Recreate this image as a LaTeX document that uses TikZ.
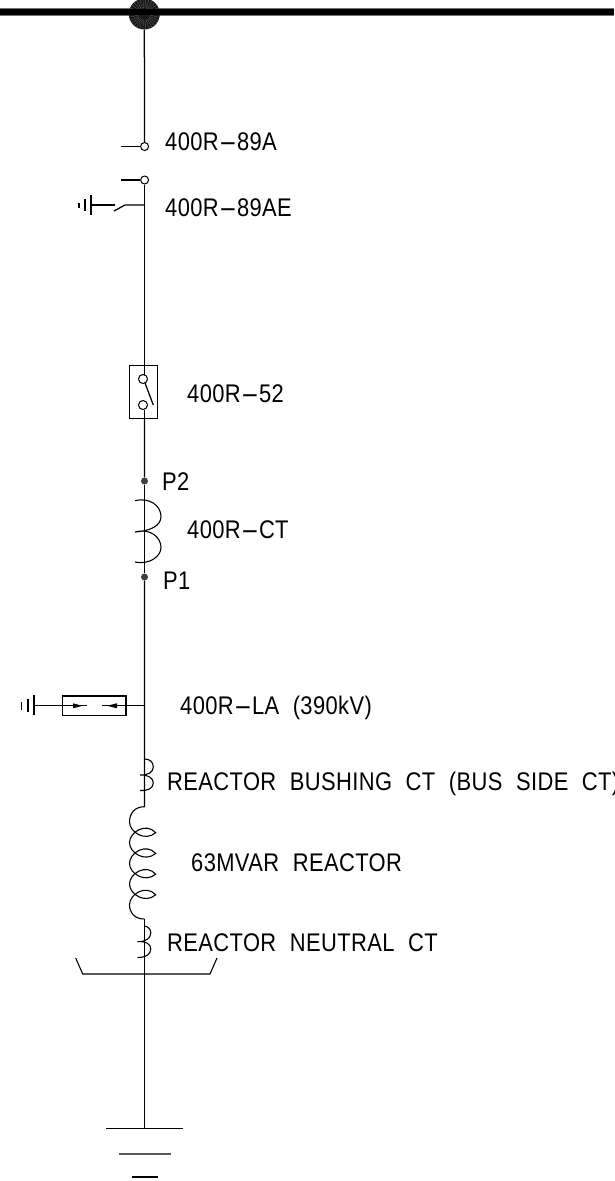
\documentclass[tikz,border=0pt]{standalone}
\usepackage{fontspec}
\usepackage{graphicx}
\setmainfont[FakeStretch=0.86,WordSpace=2.1,LetterSpace=1.5]{Liberation Sans}
\newcommand{\dd}{\scalebox{2.5}[1]{-}}
\tikzset{
  wire/.style={draw=black,line width=1.25pt},
  thin wire/.style={draw=black,line width=1.1pt},
  lab/.style={anchor=base west,inner sep=0pt,font=\fontsize{25.5}{25.5}\selectfont},
  swc/.style={circle,draw=black,fill=white,line width=1pt,minimum size=8pt,inner sep=0pt},
  dotc/.style={circle,fill=black!75,minimum size=7pt,inner sep=0pt},
  pt/.style={inner sep=0pt,minimum size=0pt}
}
\begin{document}
\begin{tikzpicture}[x=1pt,y=-1pt]
\useasboundingbox (0,0) rectangle (614,1181);
\fill[white] (0,0) rectangle (614,1181);
% bus
\fill[black!55] (0,8.3) rectangle (614,15.5);
\fill[black] (0,9) rectangle (614,14.8);
\node[circle,fill=black!90,minimum size=31pt,inner sep=0pt] (busjoint) at (144.3,14) {};
\foreach \a in {0,12,...,348}{
  \draw[white,opacity=.3,line width=.35pt] (144.3,14)++(\a:6) -- ++(\a:9.3);
}
\fill[black] (128,9) rectangle (160,14.8);
% switch
\node[swc] (sa) at (144.6,146.5) {};
\node[swc] (sb) at (144.6,180) {};
\coordinate (sal) at (120.7,146.5);
\coordinate (sbl) at (120.7,180);
\draw[wire] (busjoint.south) -- (sa.north);
\draw[wire] (sal) -- (sa.west);
\draw[wire] (sbl) -- (sb.west);
% earth switch
\coordinate (ej) at (144.5,205);
\coordinate (eb) at (125,205);
\coordinate (ec) at (114,211);
\coordinate (ed) at (115,205);
\coordinate (ee) at (91,205);
\draw[wire] (ej) -- (eb) -- (ec);
\draw[wire] (ed) -- (ee);
\draw[line width=1.5pt] (91,195) -- (91,215);
\draw[line width=1.5pt] (84.8,199) -- (84.8,211);
\draw[line width=1.5pt] (78.8,202.5) -- (78.8,208);
% breaker
\node[draw=black,line width=1.3pt,fill=white,minimum width=27.5pt,minimum height=53.5pt,inner sep=0pt] (cb) at (143.4,392) {};
\node[swc,minimum size=9pt] (ca) at (143,379) {};
\node[swc,minimum size=9pt] (cc) at (143,405) {};
\coordinate (bl1) at (145,383);
\coordinate (bl2) at (153.3,405);
\draw[wire] (bl1) -- (bl2);
\draw[wire] (sb.south -| 144.4,0) -- (144.4,365);
\draw[wire] (144.4,365) -- (144.4,375);
\draw[wire] (144.4,409.5) -- (144.4,419);
% CT
\node[dotc] (p2) at (144.5,481) {};
\node[dotc] (p1) at (144.5,577) {};
\draw[wire] (144.4,419) -- (p2);
\draw[wire] (p2) -- (p1);
\draw[thin wire] (135,500.7) .. controls (150,497) and (161,506) .. (161,516.5)
   .. controls (161,526) and (150,531) .. (135,532)
   .. controls (150,528) and (161,537) .. (161,547.5)
   .. controls (161,556) and (150,565) .. (135,562);
% LA
\node[draw=black,line width=1.2pt,minimum width=63.3pt,minimum height=19.7pt,inner sep=0pt] (la) at (94.4,705.8) {};
\coordinate (lam) at (144.4,705.8);
\coordinate (lag) at (34,705.8);
\coordinate (lal) at (86.7,705.8);
\coordinate (lar) at (102,705.8);
\draw[wire] (lam) -- (lar);
\draw[wire] (lag) -- (lal);
\fill[black] (82.5,705.8) -- (73,703.3) -- (73,708.3) -- cycle;
\fill[black] (107,705.8) -- (117,703.3) -- (117,708.3) -- cycle;
\draw[line width=1.5pt] (34,695) -- (34,715);
\draw[line width=1.5pt] (27.8,698.5) -- (27.8,712);
\draw[line width=1.5pt] (21.3,702) -- (21.3,709.5);
% main line down
\draw[wire] (p1) -- (144.4,807);
% bushing CT
\draw[thin wire] (144.4,759) .. controls (150,759) and (153.3,762) .. (153.3,767)
   .. controls (153.3,772) and (148,775.5) .. (140,775)
   .. controls (148,774.5) and (153.3,778) .. (153.3,783)
   .. controls (153.3,788) and (148,791) .. (140,790.5);
% reactor
\draw[thin wire] (144.4,806.7) .. controls (135,806.7) and (129.5,813) .. (129.5,822)
  \foreach \k in {0,1,2,3}{
    .. controls (129.5,{832+\k*20.7}) and (145,{842+\k*20.7}) .. (155.7,{832.7+\k*20.7})
    .. controls (146,{822+\k*20.7}) and (129.5,{832+\k*20.7}) .. (129.5,{842.7+\k*20.7})
  }
  .. controls (129.5,913) and (135,919) .. (144.4,919);
\draw[wire] (144.4,919) -- (144.4,1128);
% neutral CT
\draw[thin wire] (144.4,926) .. controls (148,926.5) and (150.8,929) .. (150.8,933)
   .. controls (150.8,938) and (146,942) .. (137.5,941.7)
   .. controls (146,941) and (150.8,944) .. (150.8,949)
   .. controls (150.8,954) and (146,958) .. (137.5,957.3);
% tray
\coordinate (t1) at (75.7,958);
\coordinate (t2) at (82.7,974);
\coordinate (t3) at (210,974);
\coordinate (t4) at (217,958);
\draw[thin wire] (t1) -- (t2) -- (t3) -- (t4);
% ground
\coordinate (g1a) at (106,1128.5);
\coordinate (g1b) at (182.7,1128.5);
\draw[wire] (g1a) -- (g1b);
\draw[black!65,line width=1.8pt] (119,1153.7) -- (170.7,1153.7);
\draw[black,line width=1.2pt] (132,1177) -- (158,1177);
% labels
\node[lab] (l1) at (165,150.5) {400R\dd 89A};
\node[lab] (l2) at (165,216.5) {400R\dd 89AE};
\node[lab] (l3) at (187,402) {400R\dd 52};
\node[lab] (l4) at (162,490) {P2};
\node[lab] (l5) at (187,538) {400R\dd CT};
\node[lab] (l6) at (163,589) {P1};
\node[lab] (l7) at (180,714.5) {400R\dd LA (390kV)};
\node[lab] (l8) at (167,790) {REACTOR BUSHING CT (BUS SIDE CT)};
\node[lab] (l9) at (191,871) {63MVAR REACTOR};
\node[lab] (l10) at (167,951) {REACTOR NEUTRAL CT};
\end{tikzpicture}
\end{document}
